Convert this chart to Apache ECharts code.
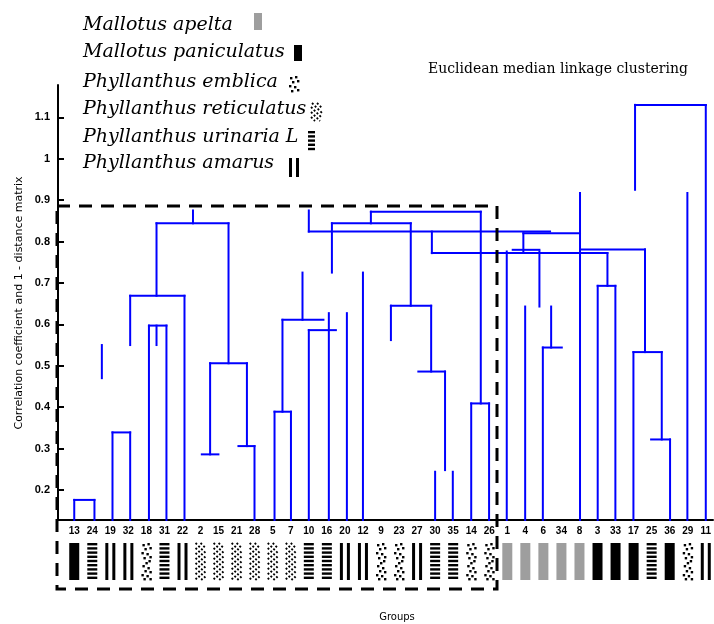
<!DOCTYPE html>
<html>
<head>
<meta charset="utf-8">
<script src="https://cdn.jsdelivr.net/npm/echarts@6/dist/echarts.min.js"></script>
<style>
  html, body { margin: 0; padding: 0; background: #fff; }
  #chart { width: 714px; height: 624px; }
</style>
</head>
<body>
<div id="chart"></div>
<script>
// ---- data -------------------------------------------------------------
// accession numbers in dendrogram leaf order (x = 1 .. 36)
const leafLabels = ['13','24','19','32','18','31','22','2','15','21','28','5','7','10','16','20','12','9',
                    '23','27','30','35','14','26','1','4','6','34','8','3','33','17','25','36','29','11'];
// species of each leaf: G apelta, P paniculatus, E emblica, R reticulatus, U urinaria, A amarus
const leafSpecies = ['P','U','A','A','E','U','A','R','R','R','R','R','R','U','U','A','A','E',
                     'E','A','U','U','E','E','G','G','G','G','G','P','P','P','U','P','E','A'];
const speciesNames = ['Mallotus apelta','Mallotus paniculatus','Phyllanthus emblica',
                      'Phyllanthus reticulatus','Phyllanthus urinaria L','Phyllanthus amarus'];
const speciesCodes = ['G','P','E','R','U','A'];

const yTicks = [0.2, 0.3, 0.4, 0.5, 0.6, 0.7, 0.8, 0.9, 1.0, 1.1];
const yTickLabels = ['0.2','0.3','0.4','0.5','0.6','0.7','0.8','0.9','1','1.1'];
const FLOOR = 0.1275;   // bottom of the value axis
const CEIL = 1.178;

// dendrogram strokes: [x1, y1, x2, y2] in (leaf position, correlation) units
const links = [
  // 13 / 24
  [1, FLOOR, 1, 0.176], [2.12, FLOOR, 2.12, 0.176], [1, 0.176, 2.12, 0.176],
  [2.53, 0.47, 2.53, 0.55],
  // 19 / 32 and 22
  [3.12, FLOOR, 3.12, 0.339], [4.1, FLOOR, 4.1, 0.339], [3.12, 0.339, 4.1, 0.339],
  [4.1, 0.55, 4.1, 0.669], [4.1, 0.669, 7.11, 0.669], [7.11, FLOOR, 7.11, 0.669],
  // 18 / 31
  [5.14, FLOOR, 5.14, 0.597], [6.11, FLOOR, 6.11, 0.597], [5.14, 0.597, 6.11, 0.597],
  [5.56, 0.55, 5.56, 0.597],
  [5.56, 0.669, 5.56, 0.844], [5.56, 0.844, 9.55, 0.844], [7.58, 0.844, 7.58, 0.875],
  // 2 / 15 / 21 / 28
  [9.55, 0.506, 9.55, 0.844], [8.53, 0.506, 10.57, 0.506],
  [8.53, 0.286, 8.53, 0.506], [8.07, 0.286, 8.99, 0.286],
  [10.57, 0.306, 10.57, 0.506], [10.1, 0.306, 10.99, 0.306], [10.99, FLOOR, 10.99, 0.306],
  // 5 / 7
  [12.1, FLOOR, 12.1, 0.389], [13.01, FLOOR, 13.01, 0.389], [12.1, 0.389, 13.01, 0.389],
  [12.54, 0.389, 12.54, 0.611], [12.54, 0.611, 14.81, 0.611], [13.65, 0.611, 13.65, 0.725],
  // 10 / 16 / 20 / 12
  [14.0, FLOOR, 14.0, 0.586], [14.0, 0.586, 15.5, 0.586],
  [15.11, FLOOR, 15.11, 0.627], [16.11, FLOOR, 16.11, 0.627], [17.0, FLOOR, 17.0, 0.725],
  [14.0, 0.824, 14.0, 0.875], [14.0, 0.824, 27.37, 0.824],
  [15.28, 0.725, 15.28, 0.844], [15.28, 0.844, 19.65, 0.844],
  // 9 / 23 / 27 / 30 / 35
  [19.65, 0.645, 19.65, 0.844], [18.55, 0.645, 20.78, 0.645], [18.55, 0.562, 18.55, 0.645],
  [20.78, 0.486, 20.78, 0.645], [20.07, 0.486, 21.55, 0.486], [21.55, 0.248, 21.55, 0.486],
  [21.0, FLOOR, 21.0, 0.244], [21.98, FLOOR, 21.98, 0.244],
  // 14 / 26
  [17.44, 0.844, 17.44, 0.872], [17.44, 0.872, 23.53, 0.872],
  [23.53, 0.409, 23.53, 0.872], [23.0, 0.409, 23.99, 0.409],
  [23.0, FLOOR, 23.0, 0.409], [23.99, FLOOR, 23.99, 0.409],
  // apelta group
  [20.82, 0.772, 20.82, 0.824], [20.82, 0.772, 30.55, 0.772],
  [30.55, 0.693, 30.55, 0.772], [30.01, 0.693, 30.99, 0.693],
  [30.01, FLOOR, 30.01, 0.693], [30.99, FLOOR, 30.99, 0.693],
  [25.89, 0.82, 29.03, 0.82], [25.89, 0.777, 25.89, 0.82], [25.3, 0.78, 26.78, 0.78],
  [24.97, FLOOR, 24.97, 0.776], [25.99, FLOOR, 25.99, 0.643],
  [26.78, 0.643, 26.78, 0.776], [27.43, 0.544, 27.43, 0.643],
  [26.97, 0.544, 28.02, 0.544], [26.97, FLOOR, 26.97, 0.544],
  // paniculatus group
  [29.03, FLOOR, 29.03, 0.917], [29.03, 0.781, 32.63, 0.781],
  [32.63, 0.533, 32.63, 0.781], [31.99, 0.533, 33.56, 0.533], [31.99, FLOOR, 31.99, 0.533],
  [33.56, 0.322, 33.56, 0.533], [32.97, 0.322, 34.02, 0.322], [34.02, FLOOR, 34.02, 0.322],
  [34.98, FLOOR, 34.98, 0.917],
  [32.08, 0.925, 32.08, 1.13], [32.08, 1.13, 36.0, 1.13], [36.0, FLOOR, 36.0, 1.13]
];

// ---- swatch textures ----------------------------------------------------
const DOTS = [[1,1],[6,0],[3,5],[8,4],[0,9],[5,10],[8,13],[2,14],[7,17],[4,19],[9,21],
              [1,22],[6,24],[3,27],[8,28],[0,31],[5,32],[8,35],[2,35]];

function swatch(type, x0, y0, w, h) {
  const k = [];
  const ink = '#000';
  if (type === 'G') {
    k.push({ type: 'rect', shape: { x: x0, y: y0, width: w, height: h }, style: { fill: '#9e9e9e' } });
  } else if (type === 'P') {
    k.push({ type: 'rect', shape: { x: x0, y: y0, width: w, height: h }, style: { fill: ink } });
  } else if (type === 'U') {
    for (let y = 0; y + 1.5 <= h; y += 4.2) {
      k.push({ type: 'rect', shape: { x: x0, y: y0 + y, width: w, height: Math.min(2.4, h - y) }, style: { fill: ink } });
    }
  } else if (type === 'A') {
    const bw = Math.max(2.4, w * 0.3);
    k.push({ type: 'rect', shape: { x: x0, y: y0, width: bw, height: h }, style: { fill: ink } });
    k.push({ type: 'rect', shape: { x: x0 + w - bw, y: y0, width: bw, height: h }, style: { fill: ink } });
  } else if (type === 'E') {
    DOTS.forEach(function (d) {
      if (d[0] + 2.4 <= w + 0.5 && d[1] + 2.4 <= h + 0.5) {
        k.push({ type: 'rect', shape: { x: x0 + d[0], y: y0 + d[1], width: 2.4, height: 2.4 }, style: { fill: ink } });
      }
    });
  } else if (type === 'R') {
    for (let c = -w; c < h; c += 5) {
      const xa = Math.max(0, -c), xb = Math.min(w, h - c);
      if (xb - xa > 0.5) {
        k.push({ type: 'line', shape: { x1: x0 + xa, y1: y0 + xa + c, x2: x0 + xb, y2: y0 + xb + c },
                 style: { stroke: ink, lineWidth: 1.8, lineDash: [2, 2] } });
      }
    }
  }
  return k;
}

// ---- legend (species key) -------------------------------------------------
const keyRows = [
  { y: 25,  sw: [254, 13, 8, 17] },
  { y: 52,  sw: [294, 45, 8, 16] },
  { y: 82,  sw: [289, 76, 10, 18] },
  { y: 109, sw: [311, 103, 11, 18] },
  { y: 137, sw: [308, 131, 7, 20] },
  { y: 163, sw: [289, 158, 10, 19] }
];
const keyGraphics = [];
speciesNames.forEach(function (name, i) {
  const r = keyRows[i];
  keyGraphics.push({
    type: 'text', x: 83, y: r.y,
    style: { text: name, fontFamily: 'DejaVu Serif', fontStyle: 'italic', fontSize: 19,
             fill: '#000', textAlign: 'left', textVerticalAlign: 'middle' }
  });
  keyGraphics.push({ type: 'group', children: swatch(speciesCodes[i], r.sw[0], r.sw[1], r.sw[2], r.sw[3]) });
});

const chart = echarts.init(document.getElementById('chart'), null, { renderer: 'canvas' });

chart.setOption({
  animation: false,
  backgroundColor: '#fff',
  title: {
    text: 'Euclidean median linkage clustering',
    left: 423, top: 57,
    textStyle: { fontFamily: 'DejaVu Serif', fontSize: 14, fontWeight: 'normal', color: '#000' }
  },
  grid: { left: 58, right: 1, top: 85, bottom: 104, containLabel: false, outerBoundsMode: 'none' },
  xAxis: {
    type: 'value', min: 0.1, max: 36.4,
    axisLine: { onZero: false, lineStyle: { color: '#000', width: 2 } },
    axisTick: { show: false },
    splitLine: { show: false },
    axisLabel: {
      customValues: leafLabels.map(function (_, i) { return i + 1; }),
      formatter: function (v) { return leafLabels[Math.round(v) - 1] || ''; },
      margin: 6, fontSize: 10, fontWeight: 'bold', fontFamily: 'Liberation Sans', color: '#000',
      hideOverlap: false
    }
  },
  yAxis: {
    type: 'value', min: FLOOR, max: CEIL,
    axisLine: { show: true, lineStyle: { color: '#000', width: 2 } },
    axisTick: { show: true, inside: true, length: 6, customValues: yTicks, lineStyle: { color: '#000', width: 2 } },
    splitLine: { show: false },
    axisLabel: {
      customValues: yTicks,
      formatter: function (v) { return yTickLabels[Math.round((v - 0.2) * 10)]; },
      margin: 8, fontSize: 11, fontWeight: 'bold', fontFamily: 'Liberation Sans', color: '#000'
    }
  },
  graphic: keyGraphics.concat([
    { type: 'rect', shape: { x: 57, y: 206, width: 440, height: 383 },
      style: { fill: 'none', stroke: '#000', lineWidth: 3, lineDash: [13, 9] }, z: 10 },
    { type: 'text', x: 19, y: 303, rotation: Math.PI / 2,
      style: { text: 'Correlation coefficient and 1 - distance matrix', fontFamily: 'DejaVu Sans',
               fontSize: 11, fill: '#000', textAlign: 'center', textVerticalAlign: 'middle' } },
    { type: 'text', x: 397, y: 617,
      style: { text: 'Groups', fontFamily: 'DejaVu Sans', fontSize: 10, fill: '#000',
               textAlign: 'center', textVerticalAlign: 'middle' } }
  ]),
  series: [
    {
      type: 'custom', name: 'links', silent: true, clip: false,
      data: links,
      encode: { x: [0, 2], y: [1, 3] },
      renderItem: function (params, api) {
        const a = api.coord([api.value(0), api.value(1)]);
        const b = api.coord([api.value(2), api.value(3)]);
        return { type: 'line', shape: { x1: a[0], y1: a[1], x2: b[0], y2: b[1] },
                 style: { stroke: '#0000ff', lineWidth: 2, lineCap: 'square' } };
      }
    },
    {
      type: 'custom', name: 'swatches', silent: true, clip: false,
      data: leafSpecies.map(function (s, i) { return [i + 1, FLOOR]; }),
      renderItem: function (params, api) {
        const p = api.coord([api.value(0), api.value(1)]);
        return { type: 'group', children: swatch(leafSpecies[params.dataIndex], p[0] - 5, p[1] + 23, 10, 37) };
      }
    }
  ]
});
</script>
</body>
</html>
